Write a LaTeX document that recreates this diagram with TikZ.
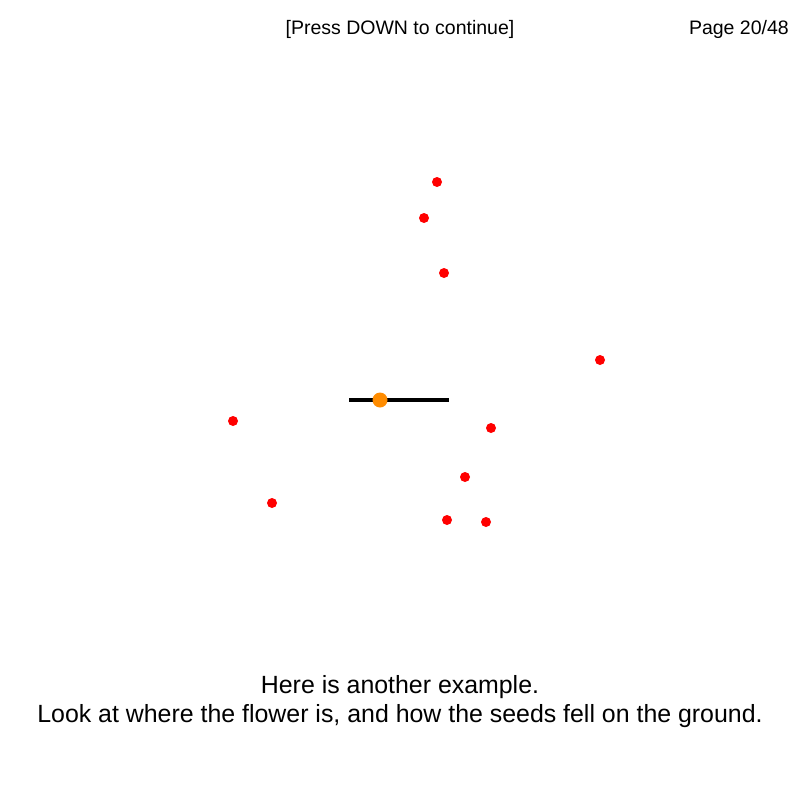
\documentclass[tikz,border=0pt]{standalone}
\usepackage{fontspec}
\setmainfont{Liberation Sans}
\begin{document}
\begin{tikzpicture}[x=1pt,y=-1pt,
  seed/.style={circle,fill=red,inner sep=0pt,minimum size=10pt},
  flower/.style={circle,fill=orange!90!yellow,inner sep=0pt,minimum size=15pt},
  toptext/.style={font=\fontsize{19.5}{23}\selectfont,inner sep=0pt,anchor=base},
  bottext/.style={font=\fontsize{24.9}{29}\selectfont,inner sep=0pt,anchor=base}]
\useasboundingbox[fill=white] (0,0) rectangle (800,800);
\node[toptext] (hint) at (400,35) {[Press DOWN to continue]};
\node[toptext,anchor=base east] (page) at (789,35) {Page 20/48};
\coordinate (sl) at (349,400);
\coordinate (sr) at (449,400);
\draw[line width=3.5pt] (sl) -- (sr);
\node[flower] (fl) at (380,400) {};
\node[seed] (s1) at (437,182) {};
\node[seed] (s2) at (424,218) {};
\node[seed] (s3) at (444,273) {};
\node[seed] (s4) at (600,360) {};
\node[seed] (s5) at (233,421) {};
\node[seed] (s6) at (491,428) {};
\node[seed] (s7) at (465,477) {};
\node[seed] (s8) at (272,503) {};
\node[seed] (s9) at (447,520) {};
\node[seed] (s10) at (486,522) {};
\node[bottext] (l1) at (400,693) {Here is another example.};
\node[bottext] (l2) at (400,722) {Look at where the flower is, and how the seeds fell on the ground.};
\end{tikzpicture}
\end{document}
